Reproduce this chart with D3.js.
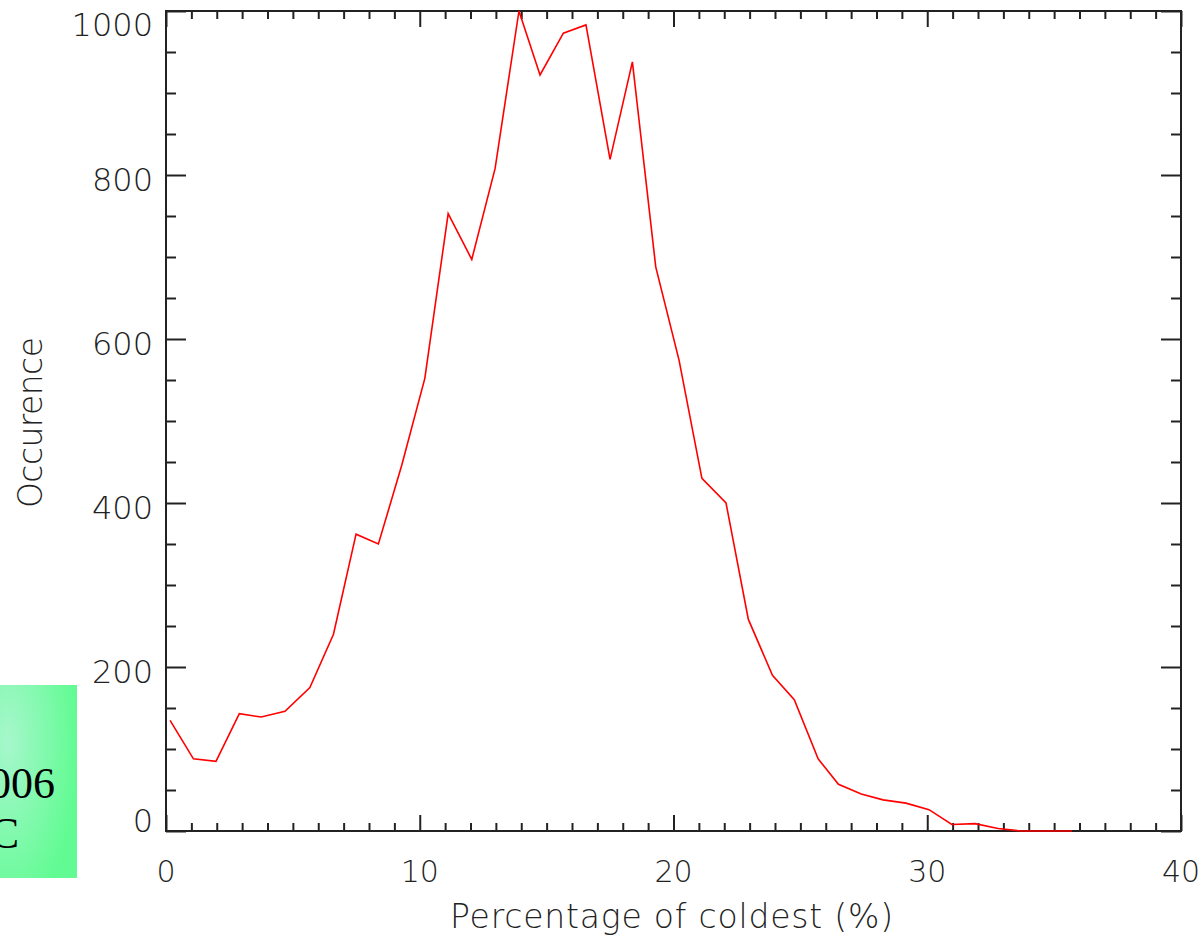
<!DOCTYPE html>
<html>
<head>
<meta charset="utf-8">
<script src="https://cdn.jsdelivr.net/npm/d3@7"></script>
<style>
  body { margin: 0; background: #fff; }
  svg { display: block; }
</style>
</head>
<body>
<svg id="chart"></svg>
<script>
// values
var pct = [0.16, 1.08, 1.97, 2.89, 3.75, 4.69, 5.67, 6.6, 7.49, 8.37, 9.29, 10.2, 11.12, 12.05, 12.97,
  13.91, 14.74, 15.66, 16.55, 17.5, 18.38, 19.3, 20.22, 21.12, 22.07, 22.95, 23.9, 24.76, 25.7, 26.5,
  27.4, 28.26, 29.16, 30.07, 30.97, 31.88, 32.79, 33.7, 34.6, 35.7];
var occ = [135, 88, 85, 143, 139, 146, 175, 240, 362, 350, 446, 552, 753, 697, 808,
  1000, 922, 973, 983, 819, 938, 688, 574, 430, 400, 258, 190, 160, 88, 57,
  45, 38, 34, 26, 8, 9, 3, 0, 0, 0];

var xMajor = [0, 10, 20, 30, 40];
var yMajor = [0, 200, 400, 600, 800, 1000];
var xTitle = "Percentage of coldest (%)";
var yTitle = "Occurence";
var boxLines = ["2006", "C"];

var width = 1203, height = 937;
// plot frame (note: "top" is reserved on window, so prefix these)
var pLeft = 166, pRight = 1181, pTop = 11, pBottom = 831;
var ink = "#222";
var font = "'DejaVu Sans', sans-serif";

var svg = d3.select("#chart").attr("width", width).attr("height", height);

// green box partly off the page, on the lower left
var defs = svg.append("defs");
var grad = defs.append("radialGradient").attr("id", "glow")
  .attr("cx", "0.1").attr("cy", "0.3").attr("r", "0.9");
grad.append("stop").attr("offset", "0").attr("stop-color", "#a6f7cc");
grad.append("stop").attr("offset", "1").attr("stop-color", "#62fb93");

svg.append("rect")
  .attr("x", 0).attr("y", 685).attr("width", 77).attr("height", 193)
  .attr("fill", "url(#glow)");
svg.append("text").attr("x", 55).attr("y", 798).attr("text-anchor", "end")
  .attr("font-family", "'Liberation Serif', serif").attr("font-size", 44)
  .text(boxLines[0]);
svg.append("text").attr("x", 19).attr("y", 848).attr("text-anchor", "end")
  .attr("font-family", "'Liberation Serif', serif").attr("font-size", 44)
  .text(boxLines[1]);

var x = d3.scaleLinear().domain([0, 40]).range([pLeft, pRight]);
var y = d3.scaleLinear().domain([0, 1000]).range([pBottom, pTop]);

var xMinor = d3.range(0, 41, 1).filter(d => d % 10 !== 0);
var yMinor = d3.range(0, 1001, 50).filter(d => d % 200 !== 0);

function drawAxis(axis, tr) {
  var g = svg.append("g").attr("transform", tr).call(axis);
  g.selectAll(".domain").remove();
  g.selectAll("line").attr("stroke", ink).attr("stroke-width", 2);
  g.selectAll("text").remove();
  return g;
}

// ticks point into the plot on all four sides
drawAxis(d3.axisBottom(x).tickValues(xMinor).tickSize(-8), `translate(0,${pBottom})`);
drawAxis(d3.axisBottom(x).tickValues(xMajor).tickSize(-16), `translate(0,${pBottom})`);
drawAxis(d3.axisTop(x).tickValues(xMinor).tickSize(-8), `translate(0,${pTop})`);
drawAxis(d3.axisTop(x).tickValues(xMajor).tickSize(-16), `translate(0,${pTop})`);
drawAxis(d3.axisLeft(y).tickValues(yMinor).tickSize(-10), `translate(${pLeft},0)`);
drawAxis(d3.axisLeft(y).tickValues(yMajor).tickSize(-20), `translate(${pLeft},0)`);
drawAxis(d3.axisRight(y).tickValues(yMinor).tickSize(-10), `translate(${pRight},0)`);
drawAxis(d3.axisRight(y).tickValues(yMajor).tickSize(-20), `translate(${pRight},0)`);

svg.append("rect")
  .attr("x", pLeft).attr("y", pTop)
  .attr("width", pRight - pLeft).attr("height", pBottom - pTop)
  .attr("fill", "none").attr("stroke", ink).attr("stroke-width", 2);

// tick labels (end labels are kept inside the frame, like the original)
svg.selectAll(".ylab").data(yMajor).enter().append("text")
  .attr("x", pLeft - 13)
  .attr("y", d => Math.min(Math.max(y(d) + 4, pTop + 13), pBottom - 11))
  .attr("dy", "0.36em")
  .attr("text-anchor", "end")
  .attr("font-family", font).attr("font-weight", 200).attr("font-size", 32)
  .attr("fill", ink)
  .text(d => d);

svg.selectAll(".xlab").data(xMajor).enter().append("text")
  .attr("x", d => x(d))
  .attr("y", 882)
  .attr("text-anchor", "middle")
  .attr("font-family", font).attr("font-weight", 200).attr("font-size", 30)
  .attr("fill", ink)
  .text(d => d);

svg.append("text")
  .attr("x", 450).attr("y", 928)
  .attr("textLength", 443).attr("lengthAdjust", "spacing")
  .attr("font-family", font).attr("font-weight", 200).attr("font-size", 33)
  .attr("fill", ink)
  .text(xTitle);

svg.append("text")
  .attr("transform", "translate(42,508) rotate(-90)")
  .attr("textLength", 171).attr("lengthAdjust", "spacing")
  .attr("font-family", font).attr("font-weight", 200).attr("font-size", 33)
  .attr("fill", ink)
  .text(yTitle);

var pts = pct.map((p, i) => [p, occ[i]]);
var line = d3.line().x(d => x(d[0])).y(d => y(d[1]));

svg.append("path")
  .datum(pts)
  .attr("d", line)
  .attr("fill", "none")
  .attr("stroke", "#ff0000")
  .attr("stroke-width", 1.6);
</script>
</body>
</html>
